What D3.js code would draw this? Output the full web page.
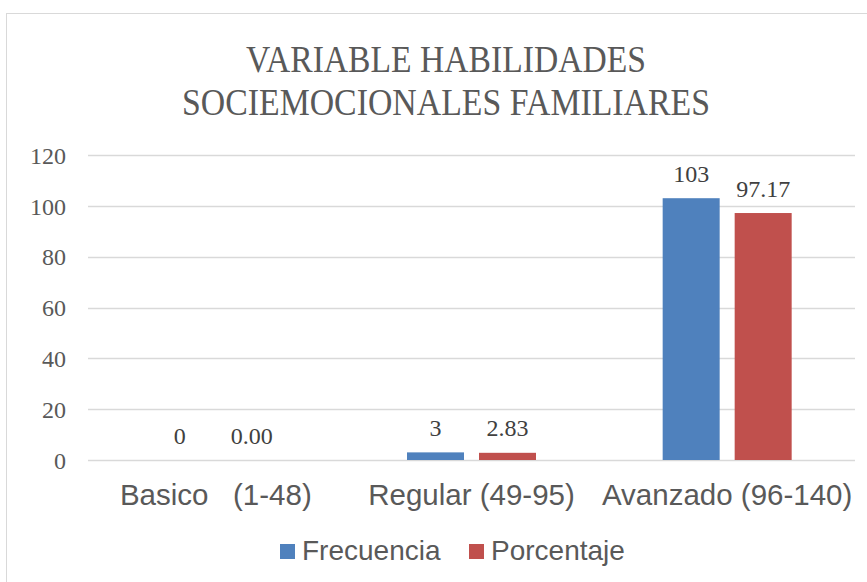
<!DOCTYPE html>
<html lang="es">
  <head>
    <meta charset="UTF-8" />
    <title>Variable habilidades sociemocionales familiares</title>
    <script src="https://d3js.org/d3.v7.min.js"></script>
    <style>
      body { margin: 0; background: #fff; }
    </style>
  </head>
  <body>
    <div id="chart"></div>
    <script>
      const categories = ["Basico   (1-48)", "Regular (49-95)", "Avanzado (96-140)"];
      const series = ["Frecuencia", "Porcentaje"];
      const frecuencia = [0, 3, 103];
      const porcentaje = [0.0, 2.83, 97.17];
      const labelsFrecuencia = ["0", "3", "103"];
      const labelsPorcentaje = ["0.00", "2.83", "97.17"];
      const yTicks = [0, 20, 40, 60, 80, 100, 120];
      const colors = ["#4f81bd", "#c0504d"];

      const width = 867, height = 582;
      const serif = "'Liberation Serif', 'DejaVu Serif', serif";
      const sans = "'Liberation Sans', Arial, sans-serif";

      const svg = d3.select("#chart").append("svg")
        .attr("width", width).attr("height", height);

      // chart area border
      svg.append("rect")
        .attr("x", 6.5).attr("y", 13.5)
        .attr("width", width + 10).attr("height", height + 10)
        .attr("fill", "#fff").attr("stroke", "#d9d9d9");

      // title
      const title = svg.append("text")
        .attr("text-anchor", "middle")
        .attr("fill", "#595959")
        .style("font-family", serif)
        .style("font-size", "37px");
      title.append("tspan").attr("x", 446).attr("y", 72)
        .attr("textLength", 400).attr("lengthAdjust", "spacingAndGlyphs")
        .text("VARIABLE HABILIDADES");
      title.append("tspan").attr("x", 446).attr("y", 115)
        .attr("textLength", 528).attr("lengthAdjust", "spacingAndGlyphs")
        .text("SOCIEMOCIONALES FAMILIARES");

      const x0 = d3.scaleBand().domain(categories).range([88, 855]);
      const y = d3.scaleLinear().domain([0, 120]).range([460, 155]);

      // gridlines
      svg.append("g").selectAll("line").data(yTicks).join("line")
        .attr("x1", 88).attr("x2", 855)
        .attr("y1", d => Math.round(y(d)) + 0.5).attr("y2", d => Math.round(y(d)) + 0.5)
        .attr("stroke", "#d9d9d9").attr("stroke-width", 1.3);

      // y axis labels
      const yAxis = d3.axisLeft(y).tickValues(yTicks).tickSize(0).tickPadding(0);
      const gy = svg.append("g").attr("transform", "translate(66,0)").call(yAxis);
      gy.select(".domain").remove();
      gy.selectAll("text")
        .attr("fill", "#595959")
        .attr("dy", "0.34em")
        .style("font-family", serif)
        .style("font-size", "24px");

      // bars
      const barW = 57, gap = 15;
      const offsets = [-(barW + gap) / 2, (barW + gap) / 2];
      const rows = categories.map((c, i) => ({
        cat: c,
        vals: [
          { s: 0, v: frecuencia[i], lab: labelsFrecuencia[i] },
          { s: 1, v: porcentaje[i], lab: labelsPorcentaje[i] }
        ]
      }));

      const groups = svg.append("g").selectAll("g").data(rows).join("g")
        .attr("transform", d => `translate(${x0(d.cat) + x0.bandwidth() / 2},0)`);

      groups.selectAll("rect").data(d => d.vals).join("rect")
        .attr("x", d => offsets[d.s] - barW / 2)
        .attr("width", barW)
        .attr("y", d => y(d.v))
        .attr("height", d => y(0) - y(d.v))
        .attr("fill", d => colors[d.s]);

      groups.selectAll("text").data(d => d.vals).join("text")
        .attr("x", d => offsets[d.s])
        .attr("y", d => y(d.v) - 16.5)
        .attr("text-anchor", "middle")
        .attr("fill", "#404040")
        .style("font-family", serif)
        .style("font-size", "24px")
        .text(d => d.lab);

      // category labels
      svg.append("g").selectAll("text").data(categories).join("text")
        .attr("x", d => x0(d) + x0.bandwidth() / 2)
        .attr("y", 505)
        .attr("text-anchor", "middle")
        .attr("fill", "#595959")
        .style("font-family", sans)
        .style("font-size", "29.5px")
        .style("white-space", "pre")
        .attr("xml:space", "preserve")
        .text(d => d);

      // legend
      const legendX = [280, 469];
      const legend = svg.append("g").selectAll("g").data(series).join("g")
        .attr("transform", (d, i) => `translate(${legendX[i]},560)`);
      legend.append("rect")
        .attr("x", 0).attr("y", -16).attr("width", 15).attr("height", 15)
        .attr("fill", (d, i) => colors[i]);
      legend.append("text")
        .attr("x", 22).attr("y", 0)
        .attr("fill", "#595959")
        .style("font-family", sans)
        .style("font-size", "28px")
        .text(d => d);
    </script>
  </body>
</html>
